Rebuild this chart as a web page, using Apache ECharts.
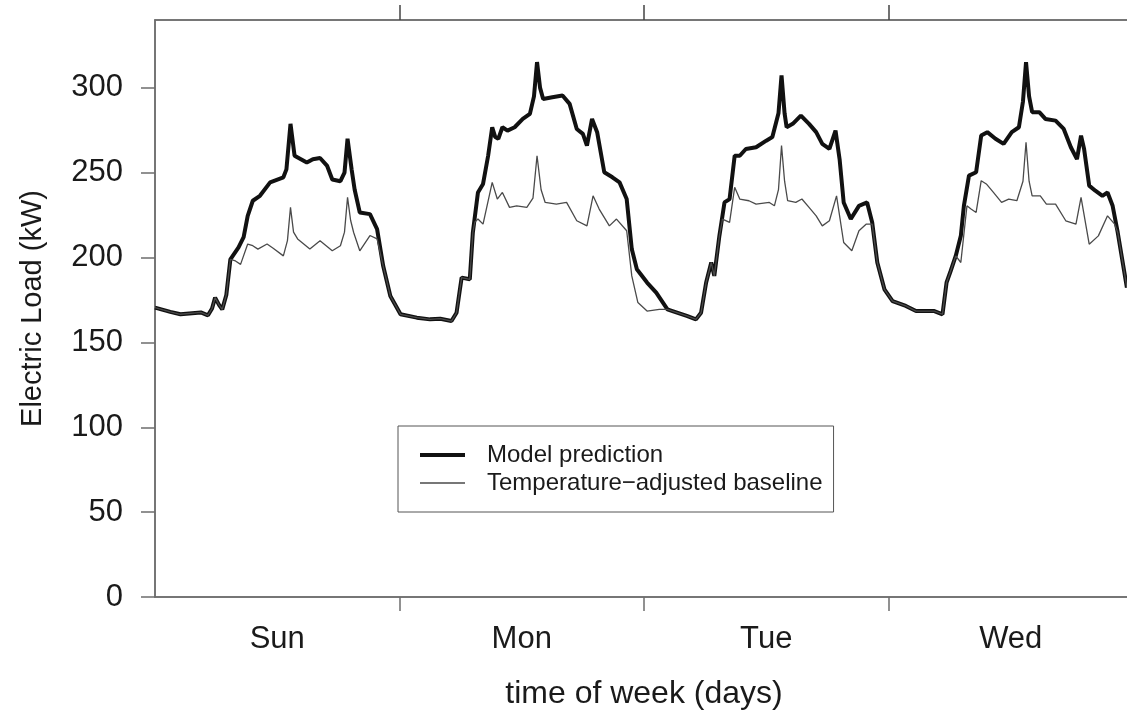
<!DOCTYPE html>
<html>
<head>
<meta charset="utf-8">
<script src="https://cdn.jsdelivr.net/npm/echarts@6/dist/echarts.min.js"></script>
<style>
html,body{margin:0;padding:0;background:#fff;}
#chart{width:1127px;height:713px;}
</style>
</head>
<body>
<div id="chart"></div>
<script>
// ---- tick labels / categories ----
const dayNames = ['Sun', 'Mon', 'Tue', 'Wed'];
const dayBoundaries = [24, 48, 72];      // hours
const dayCentres = [12, 36, 60, 84];     // hours
const yTicks = [0, 50, 100, 150, 200, 250, 300];

// ---- Model prediction (hours since Sunday 00:00, kW) ----
const predHours = [0, 1.5, 2.5, 4.5, 5.2, 5.6, 5.9, 6.3, 6.6, 7.0, 7.4, 8.2, 8.7, 9.1, 9.6, 10.3, 11.3, 12.6, 12.9, 13.3, 13.7, 14.9, 15.5, 16.2, 16.9, 17.4, 18.2, 18.6, 18.9, 19.3, 19.6, 20.1, 21.1, 21.8, 22.4, 23.1, 24.1, 25.7, 27.0, 28.0, 29.1,
  29.6, 29.9, 30.1, 30.9, 31.2, 31.7, 32.2, 32.7, 33.1, 33.4, 33.7, 34.1, 34.6, 35.3, 36.1, 36.8, 37.2, 37.5, 37.8, 38.1, 39.0, 40.0, 40.7, 41.4, 42.0, 42.4, 42.9, 43.4, 44.1, 44.9, 45.6, 46.3, 46.8, 47.3, 48.3, 49.2, 50.3, 50.8, 52.2, 53.1,
  53.6, 54.1, 54.6, 54.9, 55.4, 55.9, 56.4, 56.9, 57.4, 58.0, 59.0, 60.0, 60.6, 61.2, 61.5, 61.8, 62.0, 62.6, 63.4, 64.2, 64.9, 65.5, 66.2, 66.8, 67.2, 67.6, 68.3, 69.1, 69.9, 70.4, 70.9, 71.6, 72.4, 73.7, 74.7, 76.5, 77.3,
  77.7, 78.1, 78.6, 79.1, 79.4, 79.9, 80.6, 81.1, 81.7, 82.5, 83.3, 84.1, 84.8, 85.2, 85.5, 85.8, 86.1, 86.8, 87.4, 88.4, 89.2, 89.9, 90.5, 90.9, 91.2, 91.7, 92.3, 93.0, 93.5, 94.0, 94.5, 95.4];
const predLoad = [170.5, 168, 166.6, 167.7, 166, 170, 176.4, 172, 169.5, 178, 199, 206, 212, 224.6, 233.5, 236.4, 244.3, 247.3, 252, 278.8, 260, 256, 258, 258.7, 254, 246, 245, 250, 270, 252, 240, 226.6, 225.6, 216.8, 195, 177.4, 166.6, 164.6, 163.6, 164, 162.6,
  167.5, 180, 188.2, 187.2, 214.8, 238.4, 243.4, 260, 276.8, 271, 270, 276.8, 274.8, 276.8, 281.7, 284.7, 295, 315.2, 300, 293.5, 294.5, 295.5, 290.6, 275.8, 272.9, 266, 281.7, 273.9, 250.3, 247.3, 244.3, 234.5, 205, 193.1, 185.3, 179.4, 169.5, 168.5, 165.6, 163.6,
  167.5, 185.3, 197.1, 189.2, 212.8, 232.5, 234.5, 260, 260, 264, 265, 268.9, 271, 285, 307.3, 285, 276.8, 278.8, 283.7, 278.8, 273.9, 267, 264, 274.8, 258, 232.5, 222.7, 230.5, 232.5, 220.7, 197.1, 181.3, 174.4, 171.5, 168.5, 168.5, 166.6,
  185.3, 192.1, 201, 212.8, 230.5, 248.3, 250.3, 271.9, 273.9, 270, 267, 273.9, 276.8, 292, 315.2, 295, 285.7, 285.7, 281.7, 280.7, 275.8, 265, 258, 271.9, 264, 242.4, 239.4, 236.4, 238.4, 230.5, 214.8, 182.3];

// ---- Temperature-adjusted baseline (hours, kW) ----
const baseHours = [0, 1.5, 2.5, 4.5, 5.2, 5.6, 5.9, 6.3, 6.6, 7.0, 7.4, 7.9, 8.4, 9.1, 9.6, 10.1, 11.0, 11.6, 12.6, 13.0, 13.3, 13.6, 14.0, 15.2, 16.2, 17.4, 18.2, 18.6, 18.9, 19.2, 19.5, 20.1, 21.1, 21.8, 22.4, 23.1, 24.1, 25.7, 27.0, 28.0, 29.1,
  29.6, 29.9, 30.1, 30.9, 31.2, 31.4, 31.7, 32.2, 33.1, 33.6, 34.1, 34.8, 35.5, 36.5, 37.1, 37.5, 37.9, 38.3, 39.4, 40.4, 41.4, 42.4, 43.0, 43.6, 44.6, 45.3, 46.3, 46.8, 47.4, 48.3, 49.5, 50.3, 50.8, 52.2, 53.1,
  53.6, 54.1, 54.6, 54.9, 55.4, 55.7, 56.4, 56.9, 57.4, 58.3, 59.0, 60.3, 60.8, 61.2, 61.5, 61.8, 62.1, 62.9, 63.5, 64.2, 64.9, 65.5, 66.2, 66.9, 67.6, 68.4, 69.1, 69.8, 70.4, 70.9, 71.6, 72.4, 73.7, 74.7, 76.5, 77.3,
  77.7, 78.1, 78.6, 79.1, 79.7, 80.1, 80.6, 81.1, 81.6, 82.3, 83.1, 83.8, 84.6, 85.2, 85.5, 85.8, 86.1, 86.9, 87.5, 88.4, 89.4, 90.4, 90.9, 91.7, 92.6, 93.5, 94.2, 94.5, 95.4];
const baseLoad = [170.5, 168, 166.6, 167.7, 166, 170, 176.4, 172, 169.5, 178, 199, 198, 196, 208, 207, 205, 208, 205.5, 201, 210, 229.6, 215, 211, 205, 209.9, 204, 207, 215, 235.5, 222, 214.8, 204, 213, 211, 195, 177.4, 166.6, 164.6, 163.6, 164, 162.6,
  167.5, 180, 188.2, 187.2, 214.8, 221, 222.7, 219.7, 244.3, 234.5, 238.4, 229.6, 230.5, 229.6, 235, 260, 240, 232.5, 231.5, 232.5, 221.7, 218.7, 236.4, 228.6, 218.7, 222.7, 215.8, 189.2, 173.5, 168.5, 169.5, 169.5, 168.5, 165.6, 163.6,
  167.5, 185.3, 197.1, 189.2, 212.8, 222.7, 220.7, 241.4, 234.5, 233.5, 231.5, 232.5, 230.5, 240, 266, 245, 233.5, 232.5, 234.5, 229.6, 224.6, 218.7, 221.7, 236.4, 208.9, 204, 215.8, 219.7, 219.7, 197.1, 181.3, 174.4, 171.5, 168.5, 168.5, 166.6,
  185.3, 192.1, 201, 197.1, 230.5, 228.6, 226.6, 245.3, 243.4, 238.4, 232.5, 234.5, 233.5, 245, 268, 245, 236.4, 236.4, 231.5, 231.5, 221.7, 219.7, 235.5, 207.9, 212.8, 224.6, 219.7, 214.8, 182.3];

const FONT = '"Liberation Sans", Arial, Helvetica, sans-serif';
const TXT = '#1a1a1a';
const AXC = '#6e6e6e';
const PRED_C = '#111111';
const BASE_C = '#4a4a4a';

const zip = (xs, ys) => xs.map((x, i) => [x, ys[i]]);

const chart = echarts.init(document.getElementById('chart'), null, {renderer: 'canvas'});
chart.setOption({
  animation: false,
  backgroundColor: '#ffffff',
  color: [PRED_C, BASE_C],
  grid: {left: 155, top: 20, width: 978, height: 577, containLabel: false, outerBoundsMode: 'none',
    show: true, borderColor: AXC, borderWidth: 1.5, backgroundColor: '#fff'},
  legend: {
    orient: 'vertical', left: 398, top: 426,
    padding: [15, 11, 15, 20],
    itemGap: 0, itemWidth: 45, itemHeight: 28,
    borderColor: '#555', borderWidth: 1,
    backgroundColor: '#fff',
    selectedMode: false,
    textStyle: {fontFamily: FONT, fontSize: 24, color: TXT, lineHeight: 28, padding: [0, 0, 0, 17]},
    data: [
      {name: 'Model prediction', itemStyle: {opacity: 0}, lineStyle: {width: 4, color: PRED_C}},
      {name: 'Temperature\u2212adjusted baseline', itemStyle: {opacity: 0}, lineStyle: {width: 1.3, color: BASE_C}}
    ]
  },
  xAxis: [{
    type: 'value', min: 0, max: 96, position: 'bottom',
    axisLine: {show: true, lineStyle: {color: AXC, width: 1.5}},
    axisTick: {show: true, customValues: dayBoundaries, length: 14, lineStyle: {color: AXC, width: 1.5}},
    axisLabel: {customValues: dayCentres, formatter: v => dayNames[Math.floor(v / 24)], fontFamily: FONT, fontSize: 31, color: TXT, margin: 27},
    splitLine: {show: false},
    name: 'time of week (days)', nameLocation: 'middle', nameGap: 81,
    nameTextStyle: {fontFamily: FONT, fontSize: 32, color: TXT}
  }, {
    type: 'value', min: 0, max: 96, position: 'top',
    axisLine: {show: true, lineStyle: {color: AXC, width: 1.5}},
    axisTick: {show: true, customValues: dayBoundaries, length: 15, lineStyle: {color: '#444', width: 1.5}},
    axisLabel: {show: false},
    splitLine: {show: false}
  }],
  yAxis: {
    type: 'value', min: 0, max: 340,
    axisLine: {show: true, lineStyle: {color: AXC, width: 1.5}},
    axisTick: {show: true, customValues: yTicks, length: 14, lineStyle: {color: AXC, width: 1.5}},
    axisLabel: {customValues: yTicks, fontFamily: FONT, fontSize: 31, color: TXT, margin: 32},
    splitLine: {show: false},
    name: 'Electric Load (kW)', nameLocation: 'middle', nameGap: 108,
    nameTextStyle: {fontFamily: FONT, fontSize: 29, color: TXT}
  },
  series: [{
    name: 'Model prediction', type: 'line', xAxisIndex: 0,
    data: zip(predHours, predLoad), symbol: 'none', smooth: false,
    itemStyle: {color: PRED_C},
    lineStyle: {color: PRED_C, width: 4}, z: 3
  }, {
    name: 'Temperature\u2212adjusted baseline', type: 'line', xAxisIndex: 0,
    data: zip(baseHours, baseLoad), symbol: 'none', smooth: false,
    itemStyle: {color: BASE_C},
    lineStyle: {color: BASE_C, width: 1.3}, z: 4
  }]
});
</script>
</body>
</html>
